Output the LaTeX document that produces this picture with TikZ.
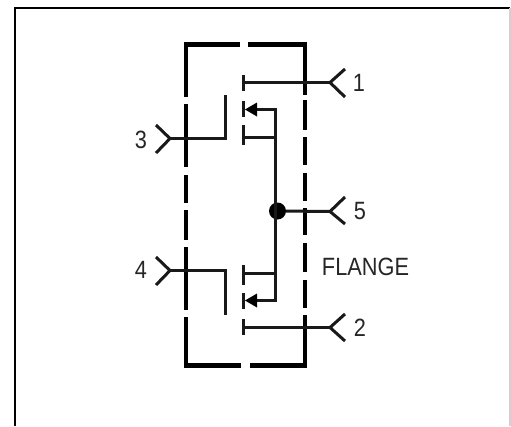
\documentclass[tikz,border=0pt]{standalone}
\usepackage{fontspec}
\setmainfont{Liberation Sans}
\usetikzlibrary{arrows.meta}
\definecolor{ink}{gray}{0.1}
\newcommand{\pintext}[1]{\scalebox{.87}[1]{\fontsize{25}{25}\selectfont #1}}
\tikzset{
 wire/.style={draw=ink,line width=3pt,line cap=butt,line join=miter},
 barline/.style={draw=ink,line width=3.2pt},
 boxline/.style={draw=black,line width=4.4pt,line join=miter},
 framel/.style={draw=black,line width=2.4pt},
 framer/.style={draw=black!18,line width=1.4pt},
 pinlabel/.style={text=black!85,inner sep=0pt},
 dotnode/.style={circle,fill=black,inner sep=0pt,minimum size=17pt},
 srcarrow/.style={fill=black,draw=none}
}
\begin{document}
\begin{tikzpicture}[x=1pt,y=-1pt]
\useasboundingbox (0,0) rectangle (511,426);
\fill[white] (0,0) rectangle (511,426);
% outer frame
\draw[framel] (15,426) -- (15,8) -- (510,8);
\draw[framer] (510,8) -- (510,426);
% dashed package outline
\draw[boxline] (186,97) -- (186,44.5) -- (240,44.5);
\draw[boxline] (248,44.5) -- (305,44.5) -- (305,95);
\draw[boxline] (186,104) -- (186,167);
\draw[boxline] (186,175) -- (186,203);
\draw[boxline] (186,210) -- (186,240);
\draw[boxline] (186,247) -- (186,310);
\draw[boxline] (186,317) -- (186,365.5) -- (241,365.5);
\draw[boxline] (250,365.5) -- (305,365.5) -- (305,315);
\draw[boxline] (305,100) -- (305,130);
\draw[boxline] (305,137) -- (305,165);
\draw[boxline] (305,173) -- (305,201);
\draw[boxline] (305,208) -- (305,235);
\draw[boxline] (305,243) -- (305,272);
\draw[boxline] (305,280) -- (305,308);
% named points
\coordinate (g3tip) at (170,138.5);
\coordinate (g3a) at (156,125);
\coordinate (g3b) at (156,153);
\coordinate (g3c) at (225.5,138.5);
\coordinate (g3d) at (225.5,95);
\coordinate (g4tip) at (170,270.5);
\coordinate (g4a) at (156,257);
\coordinate (g4b) at (156,285);
\coordinate (g4c) at (225.5,270.5);
\coordinate (g4d) at (225.5,315);
\coordinate (p1tip) at (330,82.5);
\coordinate (p1a) at (345,69);
\coordinate (p1b) at (345,97);
\coordinate (p1s) at (243.5,82.5);
\coordinate (p2tip) at (330,327.5);
\coordinate (p2a) at (345,314);
\coordinate (p2b) at (345,341);
\coordinate (p2s) at (243.5,327.5);
\coordinate (p5tip) at (330,211.5);
\coordinate (p5a) at (345,197);
\coordinate (p5b) at (345,224);
\node[dotnode] (dot) at (277.5,211) {};
\coordinate (railtop) at (275.5,109.5);
\coordinate (railbot) at (275.5,300.5);
\coordinate (s1) at (248,109.5);
\coordinate (d1) at (243.5,137.5);
\coordinate (d1r) at (275.5,137.5);
\coordinate (s2) at (248,300.5);
\coordinate (d2) at (243.5,273.5);
\coordinate (d2r) at (275.5,273.5);
% gates
\draw[wire] (g3a) -- (g3tip) -- (g3b);
\draw[wire] (g3tip) -- (g3c) -- (g3d);
\draw[wire] (g4a) -- (g4tip) -- (g4b);
\draw[wire] (g4tip) -- (g4c) -- (g4d);
% pins 1 2 5
\draw[wire] (p1a) -- (p1tip) -- (p1b);
\draw[wire] (p1tip) -- (p1s);
\draw[barline] (243.5,75) -- (243.5,91);
\draw[wire] (p2a) -- (p2tip) -- (p2b);
\draw[wire] (p2tip) -- (p2s);
\draw[barline] (243.5,319) -- (243.5,335);
\draw[wire] (p5a) -- (p5tip) -- (p5b);
\draw[wire] (p5tip) -- (dot);
% channels
\draw[wire] (s1) -- (railtop) -- (railbot) -- (s2);
\draw[wire] (d1) -- (d1r);
\draw[wire] (d2) -- (d2r);
\draw[barline] (243.5,101) -- (243.5,117);
\draw[barline] (243.5,125) -- (243.5,145);
\draw[barline] (243.5,265) -- (243.5,285);
\draw[barline] (243.5,293) -- (243.5,309);
\fill[srcarrow] (245,109.5) -- (257,102.5) -- (257,116.5) -- cycle;
\fill[srcarrow] (245,300.5) -- (257,293.5) -- (257,307.5) -- cycle;
% labels
\node[pinlabel] (l1) at (359,83) {\pintext{1}};
\node[pinlabel] (l2) at (360,328) {\pintext{2}};
\node[pinlabel] (l3) at (141,140) {\pintext{3}};
\node[pinlabel] (l4) at (141,270) {\pintext{4}};
\node[pinlabel] (l5) at (360,211) {\pintext{5}};
\node[pinlabel] (lf) at (365.5,267) {\pintext{FLANGE}};
\end{tikzpicture}
\end{document}
